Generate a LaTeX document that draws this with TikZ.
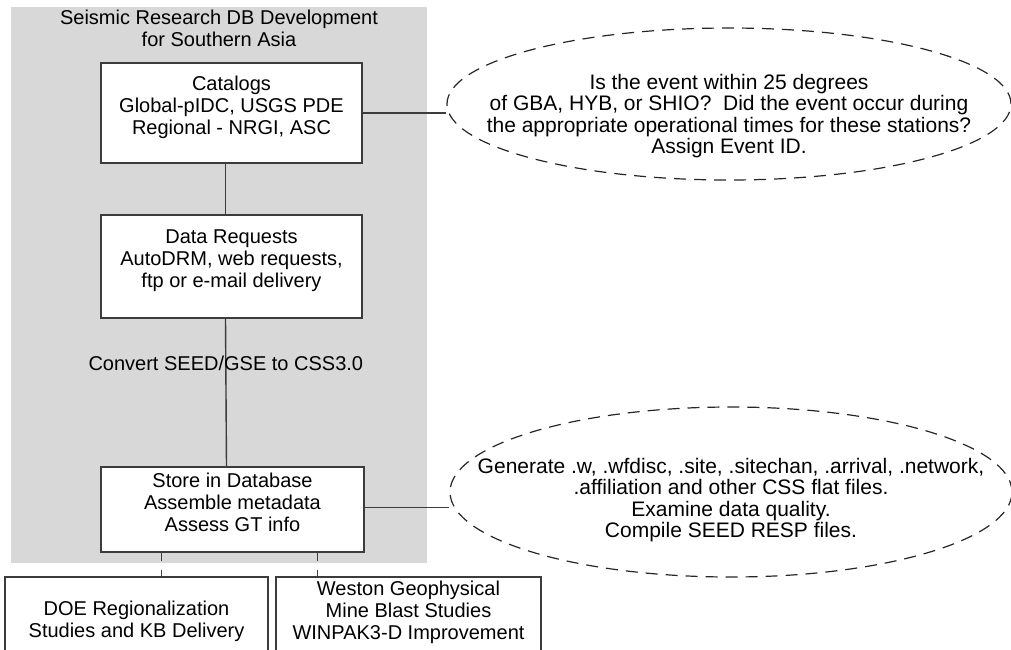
\documentclass[tikz,border=0pt]{standalone}
\usepackage{fontspec}
\setmainfont{Liberation Sans}
\usetikzlibrary{shapes.geometric,calc}
\definecolor{bggray}{RGB}{216,216,216}
\definecolor{linecol}{RGB}{60,60,60}
\begin{document}
\begin{tikzpicture}[x=1pt,y=-1pt,
  every node/.style={font=\fontsize{20}{22}\selectfont, text=black},
  box/.style={draw=linecol, line width=1.4pt, fill=white, align=center, inner sep=0pt},
  bubble/.style={ellipse, draw=black!85, line width=1.2pt, dash pattern=on 12pt off 8pt, inner sep=0pt},
  bubbletext/.style={align=center, inner sep=0pt, font=\fontsize{21}{21.5}\selectfont},
  conn/.style={draw=linecol, line width=1.4pt},
  dconn/.style={draw=linecol, line width=1.2pt, dash pattern=on 8pt off 9pt}]
\useasboundingbox (0,0) rectangle (1011,649);
\fill[bggray] (11,7) rectangle (427,563);
\node[align=center] (title) at (219,28) {Seismic Research DB Development\\for Southern Asia};
\node[box, minimum width=261, minimum height=100] (cat) at (231.5,113) {Catalogs\\Global-pIDC, USGS PDE\\Regional - NRGI, ASC\\[-5.8pt]\mbox{}};
\node[box, minimum width=261, minimum height=103] (req) at (231.5,266.5) {Data Requests\\AutoDRM, web requests,\\ftp or e-mail delivery\\[-5.8pt]\mbox{}};
\node[box, minimum width=263, minimum height=85] (store) at (232.5,509.5) {Store in Database\\Assemble metadata\\Assess GT info\\[-7.8pt]\mbox{}};
\node[box, minimum width=263, minimum height=88] (doe) at (136.5,621) {DOE Regionalization\\Studies and KB Delivery};
\node[box, minimum width=265, minimum height=88] (wes) at (408.5,621) {Weston Geophysical\\Mine Blast Studies\\WINPAK3-D Improvement\\\mbox{}};
\node[bubble, minimum width=564, minimum height=152] (e1) at (729,104) {};
\node[bubbletext] (e1t) at (729,116) {Is the event within 25 degrees\\of GBA, HYB, or SHIO?\ \ Did the event occur during\\the appropriate operational times for these stations?\\Assign Event ID.};
\node[bubble, minimum width=562, minimum height=170] (e2) at (731,492) {};
\node[bubbletext] (e2t) at (731,500) {Generate .w, .wfdisc, .site, .sitechan, .arrival, .network,\\.affiliation and other CSS flat files.\\Examine data quality.\\Compile SEED RESP files.};
\draw[conn] ($(cat.south)+(-6,0)$) -- ($(req.north)+(-6,0)$);
\draw[conn] ($(req.south)+(-6,0)$) -- node[pos=0.3] (conv) {Convert SEED/GSE to CSS3.0} ($(store.north)+(-6,0)$);
\draw[conn] (cat.east) -- (cat.east -| e1.west);
\draw[conn] ($(store.east)+(0,-2)$) -- ($(store.east -| e2.west)+(0,-2)$);
\draw[dconn] ($(store.south west)+(61,0)$) -- ($(doe.north west)+(157,0)$);
\draw[dconn] ($(store.south west)+(217,0)$) -- ($(wes.north west)+(42,0)$);
\end{tikzpicture}
\end{document}
